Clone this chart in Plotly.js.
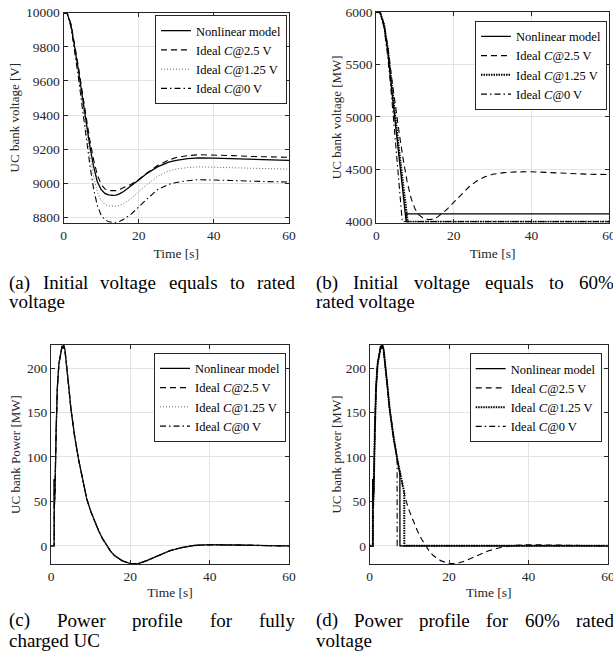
<!DOCTYPE html>
<html>
<head>
<meta charset="utf-8">
<script src="https://cdn.plot.ly/plotly-3.0.1.min.js"></script>
<style>
  html, body { margin: 0; padding: 0; background: #fff; }
  #chart { width: 613px; height: 660px; }
</style>
</head>
<body>
<div id="chart"></div>
<script>
// ---------------- DATA ----------------
const seriesNames = ['Nonlinear model', 'Ideal <i>C</i>@2.5 V', 'Ideal <i>C</i>@1.25 V', 'Ideal <i>C</i>@0 V'];

// (a) UC bank voltage [V], initial voltage = rated
const tA = [0,1,2,3,4,5,6,7,8,9,10,11,12,13,14,15,16,18,20,22,25,28,30,33,36,40,45,50,55,60];
const vA_nonlinear = [10000,9995,9925,9800,9660,9510,9360,9220,9100,9010,8965,8942,8933,8930,8932,8940,8953,8985,9020,9055,9097,9125,9135,9145,9150,9148,9145,9141,9138,9135];
const vA_ideal25  = [10000,9995,9935,9815,9680,9535,9390,9255,9140,9050,8995,8968,8958,8956,8958,8965,8975,8995,9022,9058,9105,9137,9152,9163,9168,9167,9163,9158,9155,9153];
const vA_ideal125 = [10000,9995,9920,9790,9640,9480,9320,9170,9040,8950,8900,8878,8868,8865,8866,8872,8882,8912,8951,8990,9042,9072,9084,9093,9097,9096,9092,9089,9086,9084];
const vA_ideal0   = [10000,9995,9915,9775,9615,9445,9270,9110,8970,8870,8815,8788,8775,8771,8772,8778,8790,8820,8862,8905,8963,8995,9005,9016,9022,9021,9017,9013,9010,9008];

// (b) UC bank voltage, initial voltage = 60% rated
const tB_nonlinear = [0,1,2,3,4,5,6,7,7.7,7.72,60];
const vB_nonlinear = [6000,5995,5870,5620,5250,4900,4560,4230,4000,4075,4075];
const tB_ideal25 = [0,1,2,3,4,5,6,7,8,9,10,11,12,13,14,15,16,18,20,22,24,26,28,30,33,36,40,45,50,55,60];
const vB_ideal25 = [6000,5995,5885,5660,5360,5080,4820,4580,4370,4220,4120,4065,4035,4022,4020,4028,4050,4110,4185,4265,4335,4390,4428,4452,4468,4475,4476,4468,4458,4452,4450];
const tB_ideal125 = [0,1,2,3,4,5,6,7,8.1,60];
const vB_ideal125 = [6000,5995,5880,5640,5300,4950,4640,4330,4000,4000];
const tB_ideal0 = [0,1,2,3,4,5,6,6.7,60];
const vB_ideal0 = [6000,5995,5850,5560,5170,4740,4280,4000,4000];

// (c) UC bank power [MW], fully charged (all four models coincide)
const tC = [0,0.8,0.82,0.86,1.0,1.3,1.6,2.0,2.5,2.8,3.0,3.2,3.5,3.8,4.0,4.5,5,6,7,8,9,10,11,12,13,14,15,16,18,20,21,22,24,26,28,30,33,36,40,45,50,55,60];
const pC = [0,0,75,45,60,130,178,205,220,225,222,226,221,210,200,178,155,122,96,74,53,39,27,17,8,0.5,-6,-11,-17,-20,-20.3,-20,-17,-13,-9,-5.5,-2,0.3,1.2,1.2,0.6,0.1,-0.2];

// (d) UC bank power [MW], 60% rated voltage
const tD_nonlinear = [0,0.8,0.82,0.86,1.0,1.3,1.6,2.0,2.5,2.8,3.0,3.2,3.5,3.8,4.0,4.5,5,6,7,7.6,7.62,60];
const pD_nonlinear = [0,0,75,45,60,130,178,205,220,225,222,226,221,210,200,178,155,122,96,81,0,0];
const tD_ideal25 = tC;
const pD_ideal25 = pC;
const tD_ideal125 = [0,0.8,0.82,0.86,1.0,1.3,1.6,2.0,2.5,2.8,3.0,3.2,3.5,3.8,4.0,4.5,5,6,7,8,8.7,8.72,60];
const pD_ideal125 = [0,0,75,45,60,130,178,205,220,225,222,226,221,210,200,178,155,122,96,74,60,0,0];
const tD_ideal0 = [0,0.8,0.82,0.86,1.0,1.3,1.6,2.0,2.5,2.8,3.0,3.2,3.5,3.8,4.0,4.5,5,6,6.9,6.92,60];
const pD_ideal0 = [0,0,75,45,60,130,178,205,220,225,222,226,221,210,200,178,155,122,98,0,0];

// tick labels
const xTicks = [0,20,40,60];
const yTicksA = [8800,9000,9200,9400,9600,9800,10000];
const yTicksB = [4000,4500,5000,5500,6000];
const yTicksP = [0,50,100,150,200];

// captions
const captions = [
  {words: ['(a)','Initial','voltage','equals','to','rated'], second: 'voltage', col: 0, row: 0},
  {words: ['(b)','Initial','voltage','equals','to','60%'], second: 'rated voltage', col: 1, row: 0},
  {words: ['(c)','Power','profile','for','fully'], second: 'charged UC', col: 0, row: 1},
  {words: ['(d)','Power','profile','for','60%','rated'], second: 'voltage', col: 1, row: 1}
];

// ---------------- STYLE / LAYOUT ----------------
const W = 613, H = 660;
const FONT = 'Liberation Serif';
const INK = '#262626';

function xd(a, b) { return [a / W, b / W]; }
function yd(top, bottom) { return [1 - bottom / H, 1 - top / H]; }

const styles = {
  thin: [
    {dash: 'solid', width: 1.3},
    {dash: '6px,4px', width: 1.1},
    {dash: '1px,2px', width: 0.9, color: '#555'},
    {dash: '6px,3px,1.5px,3px', width: 1.1}
  ],
  bold: [
    {dash: 'solid', width: 1.3},
    {dash: '6px,4px', width: 1.1},
    {dash: '1.5px,1px', width: 2},
    {dash: '6px,3px,1.5px,3px', width: 1.1}
  ]
};

function mk(x, y, i, axN, legendId, st) {
  const s = st[i];
  return {
    x: x, y: y, type: 'scatter', mode: 'lines',
    name: seriesNames[i],
    xaxis: 'x' + (axN === 1 ? '' : axN), yaxis: 'y' + (axN === 1 ? '' : axN),
    legend: legendId,
    line: {color: s.color || '#000', width: s.width, dash: s.dash},
    hoverinfo: 'skip'
  };
}

const data = [
  mk(tA, vA_nonlinear, 0, 1, 'legend', styles.thin),
  mk(tA, vA_ideal25, 1, 1, 'legend', styles.thin),
  mk(tA, vA_ideal125, 2, 1, 'legend', styles.thin),
  mk(tA, vA_ideal0, 3, 1, 'legend', styles.thin),

  mk(tB_nonlinear, vB_nonlinear, 0, 2, 'legend2', styles.bold),
  mk(tB_ideal25, vB_ideal25, 1, 2, 'legend2', styles.bold),
  mk(tB_ideal125, vB_ideal125, 2, 2, 'legend2', styles.bold),
  mk(tB_ideal0, vB_ideal0, 3, 2, 'legend2', styles.bold),

  mk(tC, pC, 0, 3, 'legend3', styles.thin),
  mk(tC, pC, 1, 3, 'legend3', styles.thin),
  mk(tC, pC, 2, 3, 'legend3', styles.thin),
  mk(tC, pC, 3, 3, 'legend3', styles.thin),

  mk(tD_nonlinear, pD_nonlinear, 0, 4, 'legend4', styles.bold),
  mk(tD_ideal25, pD_ideal25, 1, 4, 'legend4', styles.bold),
  mk(tD_ideal125, pD_ideal125, 2, 4, 'legend4', styles.bold),
  mk(tD_ideal0, pD_ideal0, 3, 4, 'legend4', styles.bold)
];

function xaxis(domain, anchor, standoff) {
  return {
    domain: domain, anchor: anchor, range: [0, 60], tickvals: xTicks, tickformat: 'd',
    showline: true, linecolor: INK, linewidth: 1, mirror: 'ticks',
    ticks: 'inside', ticklen: 4, tickcolor: INK, ticklabeloverflow: 'allow',
    showgrid: true, gridcolor: '#e3e3e3', gridwidth: 1, zeroline: false,
    tickfont: {family: FONT, size: 13.5, color: INK},
    title: {text: 'Time [s]', font: {family: FONT, size: 13.5, color: INK}, standoff: standoff},
    fixedrange: true
  };
}
function yaxis(domain, anchor, range, ticks, title, standoff) {
  return {
    domain: domain, anchor: anchor, range: range, tickvals: ticks, tickformat: 'd',
    showline: true, linecolor: INK, linewidth: 1, mirror: 'ticks',
    ticks: 'inside', ticklen: 4, tickcolor: INK, ticklabeloverflow: 'allow',
    showgrid: true, gridcolor: '#e3e3e3', gridwidth: 1, zeroline: false,
    tickfont: {family: FONT, size: 13.5, color: INK},
    title: {text: title, font: {family: FONT, size: 13, color: INK}, standoff: standoff},
    fixedrange: true
  };
}
function legend(right, top) {
  return {
    x: right / W, y: 1 - top / H, xanchor: 'right', yanchor: 'top',
    bgcolor: '#fff', bordercolor: INK, borderwidth: 1,
    font: {family: FONT, size: 12.5, color: '#000'},
    tracegroupgap: 0, itemwidth: 30, itemclick: false, itemdoubleclick: false
  };
}

const layout = {
  width: W, height: H,
  margin: {l: 0, r: 0, t: 0, b: 0},
  paper_bgcolor: '#fff', plot_bgcolor: '#fff',
  font: {family: FONT, color: INK},
  showlegend: true,
  xaxis:  xaxis(xd(63.5, 289), 'y', 6),
  yaxis:  yaxis(yd(12.7, 222.7), 'x', [8770, 10000], yTicksA, 'UC bank voltage [V]', 3),
  xaxis2: xaxis(xd(376.3, 609), 'y2', 6),
  yaxis2: yaxis(yd(12, 222.5), 'x2', [3992, 6000], yTicksB, 'UC bank voltage [MW]', 1),
  xaxis3: xaxis(xd(51, 289), 'y3', 4),
  yaxis3: yaxis(yd(345, 564), 'x3', [-20.5, 226], yTicksP, 'UC bank Power [MW]', 3),
  xaxis4: xaxis(xd(369.7, 607.9), 'y4', 4),
  yaxis4: yaxis(yd(345, 564), 'x4', [-20.5, 226], yTicksP, 'UC bank power [MW]', 1),
  legend:  legend(287, 15),
  legend2: legend(607, 20.7),
  legend3: legend(286, 352.7),
  legend4: legend(601.7, 353),
  annotations: []
};

// ---------------- CAPTIONS (justified first line) ----------------
const CAP_SIZE = 19;
const colLeft = [8, 315], colRight = [294, 613];
const rowY = [[283, 302], [620, 640]];
const measureCtx = document.createElement('canvas').getContext('2d');
measureCtx.font = CAP_SIZE + 'px "Liberation Serif"';
function capAnn(text, x, y) {
  return {
    text: text, xref: 'paper', yref: 'paper', x: x / W, y: 1 - y / H,
    xanchor: 'left', yanchor: 'middle', showarrow: false,
    borderpad: 0, font: {family: FONT, size: CAP_SIZE, color: '#000'}
  };
}
captions.forEach(c => {
  const L = colLeft[c.col], R = colRight[c.col];
  const widths = c.words.map(w => measureCtx.measureText(w).width);
  const total = widths.reduce((a, b) => a + b, 0);
  const gap = (R - L - total) / (c.words.length - 1);
  let x = L;
  c.words.forEach((w, i) => {
    layout.annotations.push(capAnn(w, x, rowY[c.row][0]));
    x += widths[i] + gap;
  });
  layout.annotations.push(capAnn(c.second, L, rowY[c.row][1]));
});

Plotly.newPlot('chart', data, layout, {displayModeBar: false});
</script>
</body>
</html>
